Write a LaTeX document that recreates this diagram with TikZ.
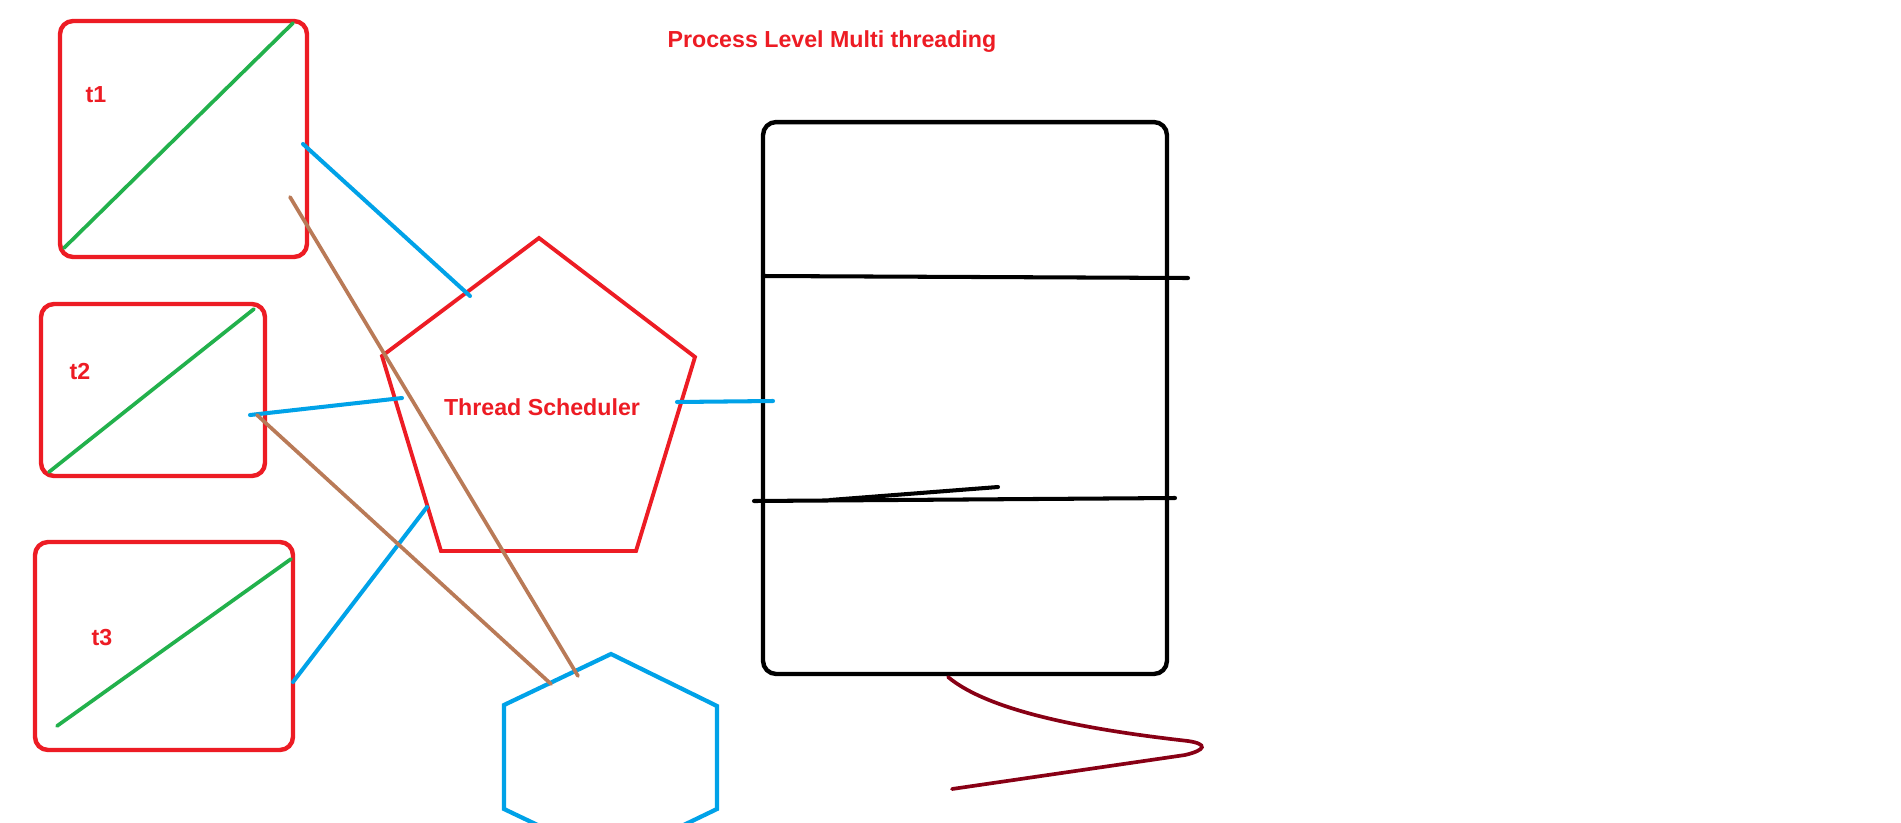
\documentclass[tikz,border=0pt]{standalone}
\usepackage{fontspec}
\setmainfont{Liberation Sans}
\usetikzlibrary{positioning}

\definecolor{paintred}{RGB}{237,28,36}
\definecolor{paintgreen}{RGB}{34,177,76}
\definecolor{paintblue}{RGB}{0,162,232}
\definecolor{paintbrown}{RGB}{185,122,87}
\definecolor{paintmaroon}{RGB}{136,0,21}

\tikzset{
  threadbox/.style={draw=paintred, line width=2.5pt, rounded corners=0.26cm, inner sep=0pt},
  threadlabel/.style={text=paintred, font=\fontsize{13.2pt}{16pt}\selectfont\bfseries, anchor=base, inner sep=0pt},
  diag/.style={draw=paintgreen, line width=2.1pt, line cap=round},
  bluelink/.style={draw=paintblue, line width=2.3pt, line cap=round},
  brownlink/.style={draw=paintbrown, line width=2.1pt, line cap=round},
  blackline/.style={draw=black, line width=2.3pt, line cap=round}
}

\begin{document}
\begin{tikzpicture}[x=0.02cm, y=-0.02cm]
    \clip (0, 0) rectangle (1901, 822);
    \fill[white] (0, 0) rectangle (1901, 822);

    % title
    \node[threadlabel] (title) at (832, 47) {Process Level Multi threading};

    % thread boxes
    \node[threadbox, minimum width=4.94cm, minimum height=4.72cm] (t1) at (183.5, 139) {};
    \node[threadbox, minimum width=4.48cm, minimum height=3.44cm] (t2) at (153, 390) {};
    \node[threadbox, minimum width=5.16cm, minimum height=4.16cm] (t3) at (164, 646) {};
    \node[threadlabel] (t1 label) at (96, 102) {t1};
    \node[threadlabel] (t2 label) at (80, 379) {t2};
    \node[threadlabel] (t3 label) at (102, 645) {t3};

    \draw[diag] (64, 248) -- (293, 23);
    \draw[diag] (49, 472) -- (254, 309);
    \draw[diag] (57, 726) -- (291, 559);

    % scheduler pentagon
    \coordinate (p top) at (539, 238);
    \coordinate (p ul) at (382, 356);
    \coordinate (p ur) at (695, 357);
    \coordinate (p bl) at (441, 551);
    \coordinate (p br) at (636, 551);
    \draw[paintred, line width=2.2pt] (p top) -- (p ur) -- (p br) -- (p bl) -- (p ul) -- cycle;
    \node[threadlabel] (sched) at (542, 415) {Thread Scheduler};

    % process block
    \node[draw, line width=2.5pt, rounded corners=0.26cm, minimum width=8.08cm, minimum height=11.04cm, inner sep=0pt] (proc) at (965, 398) {};
    \draw[blackline] (763, 276) -- (977, 277) -- (1188, 278);
    \draw[blackline] (754, 501) -- (1175, 498);
    \draw[blackline] (830, 500) -- (998, 487);

    % hexagon
    \coordinate (h top) at (611, 654);
    \coordinate (h ul) at (504, 705);
    \coordinate (h ur) at (717, 706);
    \coordinate (h ll) at (504, 809);
    \coordinate (h lr) at (717, 809);
    \coordinate (h bot) at (611, 860);
    \draw[paintblue, line width=2.4pt] (h top) -- (h ur) -- (h lr) -- (h bot) -- (h ll) -- (h ul) -- cycle;

    % links
    \coordinate (a1) at (303, 144);
    \coordinate (a2) at (250, 415);
    \coordinate (a3) at (293, 682);
    \draw[bluelink] (a1) -- (470, 296);
    \draw[bluelink] (a2) -- (402, 398);
    \draw[bluelink] (a3) -- (427, 507);
    \draw[bluelink] (677, 402) -- (773, 401);
    \draw[brownlink] (290, 197) -- (578, 676);
    \draw[brownlink] (257, 415) -- (551, 684);

    % tail
    \draw[paintmaroon, line width=2.1pt, line cap=round] (948, 677) .. controls (990, 712) and (1090, 730) .. (1188, 741)
        .. controls (1208, 744) and (1206, 750) .. (1185, 755) -- (952, 789);
\end{tikzpicture}
\end{document}
